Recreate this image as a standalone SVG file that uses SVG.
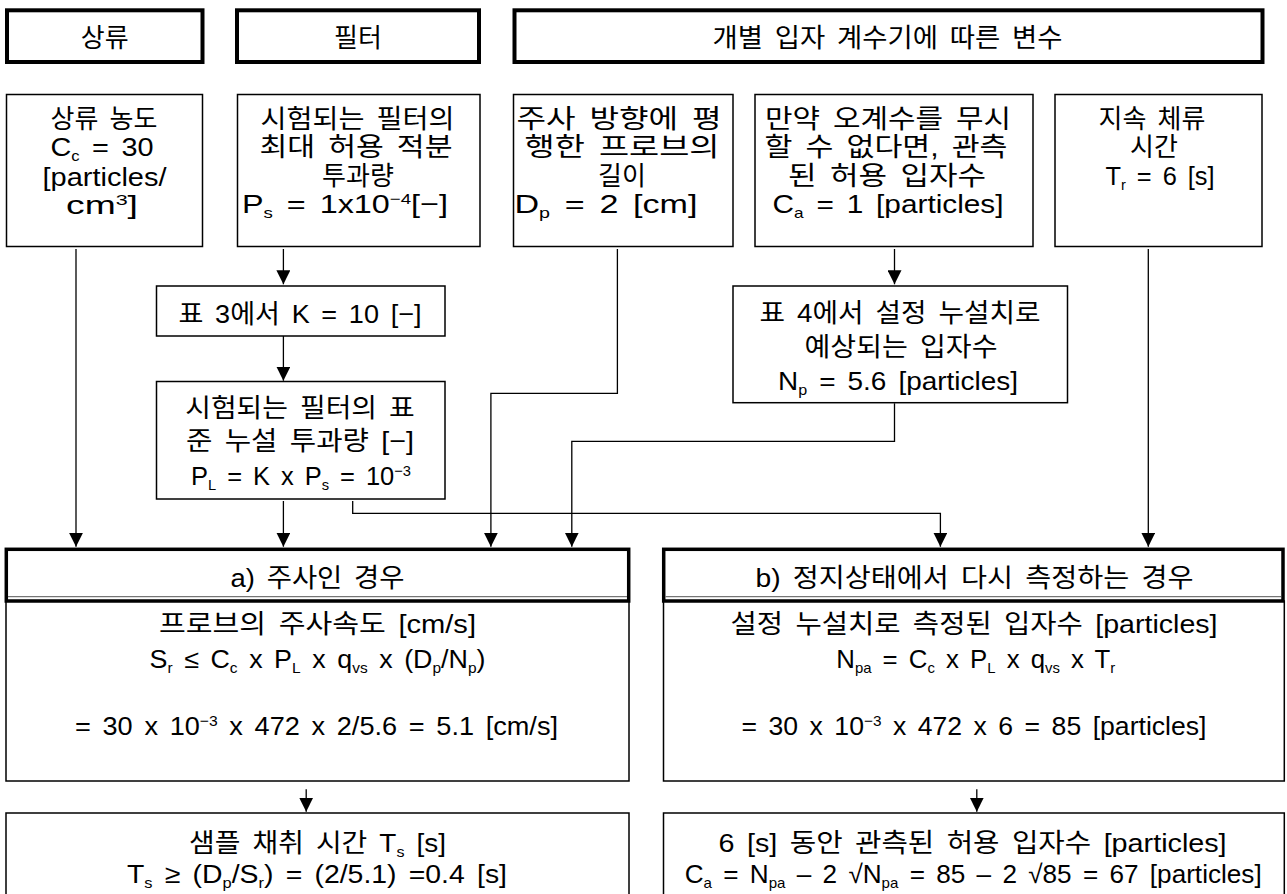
<svg xmlns="http://www.w3.org/2000/svg" width="1287" height="894" viewBox="0 0 1287 894">
<defs>
<style>
.hdr{fill:#fff;stroke:#000;stroke-width:4}
.hd2{fill:#fff;stroke:#000;stroke-width:3.5}
.box{fill:#fff;stroke:#000;stroke-width:1.5}
.inner{stroke:#555;stroke-width:1;fill:none}
.conn{fill:none;stroke:#000;stroke-width:1.3}
.t{font-family:"Liberation Sans","Noto Sans CJK KR",sans-serif;font-size:26px;fill:#000;text-anchor:middle;word-spacing:4px}
.s{font-size:15px}
</style>
<marker id="arr" markerUnits="userSpaceOnUse" markerWidth="14" markerHeight="14" viewBox="0 0 14 14" refX="14" refY="7" orient="auto">
<path d="M0,0 L14,7 L0,14 Z" fill="#000"/>
</marker>
</defs>
<rect width="1287" height="894" fill="#fff"/>

<g id="hdr-upstream">
<rect class="hdr" x="7" y="10.3" width="195.5" height="51.7"/>
<text class="t" x="104.7" y="46.5">상류</text>
</g>
<g id="hdr-filter">
<rect class="hdr" x="237" y="10.3" width="242" height="51.7"/>
<text class="t" x="358" y="46.5">필터</text>
</g>
<g id="hdr-counter">
<rect class="hdr" x="514.5" y="10.3" width="748" height="51.7"/>
<text class="t" x="887.5" y="46.5" textLength="350" lengthAdjust="spacingAndGlyphs">개별 입자 계수기에 따른 변수</text>
</g>

<g id="n-conc">
<rect class="box" x="6.5" y="94.5" width="196" height="152"/>
<text class="t" x="104" y="127.5">상류 농도</text>
<text class="t" x="102" y="156" textLength="103" lengthAdjust="spacingAndGlyphs">C<tspan class="s" dy="5">c</tspan><tspan dy="-5"> = 30</tspan></text>
<text class="t" x="104.5" y="185.5" textLength="124" lengthAdjust="spacingAndGlyphs">[particles/</text>
<text class="t" x="102" y="213.5" textLength="72" lengthAdjust="spacingAndGlyphs">cm<tspan class="s" dy="-9">3</tspan><tspan dy="9">]</tspan></text>
</g>

<g id="n-ps">
<rect class="box" x="237.5" y="94.5" width="242.5" height="152"/>
<text class="t" x="357.5" y="127.5" textLength="194" lengthAdjust="spacingAndGlyphs">시험되는 필터의</text>
<text class="t" x="356" y="156" textLength="193" lengthAdjust="spacingAndGlyphs">최대 허용 적분</text>
<text class="t" x="358" y="184.5">투과량</text>
<text class="t" x="345" y="213" textLength="206" lengthAdjust="spacingAndGlyphs">P<tspan class="s" dy="5">s</tspan><tspan dy="-5"> = 1x10</tspan><tspan class="s" dy="-9">−4</tspan><tspan dy="9">[−]</tspan></text>
</g>

<g id="n-dp">
<rect class="box" x="513.5" y="94.5" width="219.5" height="152"/>
<text class="t" x="619" y="127.5" textLength="205" lengthAdjust="spacingAndGlyphs">주사 방향에 평</text>
<text class="t" x="622" y="156" textLength="195" lengthAdjust="spacingAndGlyphs">행한 프로브의</text>
<text class="t" x="622" y="184.5">길이</text>
<text class="t" x="606" y="213" textLength="183" lengthAdjust="spacingAndGlyphs">D<tspan class="s" dy="5">p</tspan><tspan dy="-5"> = 2 [cm]</tspan></text>
</g>

<g id="n-ca">
<rect class="box" x="755" y="94.5" width="278" height="152"/>
<text class="t" x="888" y="127.5" textLength="246" lengthAdjust="spacingAndGlyphs">만약 오계수를 무시</text>
<text class="t" x="886" y="156" textLength="243" lengthAdjust="spacingAndGlyphs">할 수 없다면, 관측</text>
<text class="t" x="887" y="184.5" textLength="198" lengthAdjust="spacingAndGlyphs">된 허용 입자수</text>
<text class="t" x="888" y="213" textLength="231" lengthAdjust="spacingAndGlyphs">C<tspan class="s" dy="5">a</tspan><tspan dy="-5"> = 1 [particles]</tspan></text>
</g>

<g id="n-tr">
<rect class="box" x="1055" y="94.5" width="207" height="152"/>
<text class="t" x="1152" y="127.5">지속 체류</text>
<text class="t" x="1154" y="156">시간</text>
<text class="t" x="1160" y="184.5" textLength="109" lengthAdjust="spacingAndGlyphs">T<tspan class="s" dy="5">r</tspan><tspan dy="-5"> = 6 [s]</tspan></text>
</g>

<g id="n-k">
<rect class="box" x="156.5" y="286" width="288.5" height="50"/>
<text class="t" x="300" y="322.5" textLength="243" lengthAdjust="spacingAndGlyphs">표 3에서 K = 10 [−]</text>
</g>

<g id="n-pl">
<rect class="box" x="156.5" y="381.5" width="288.5" height="117.5"/>
<text class="t" x="300" y="417" textLength="229.5" lengthAdjust="spacingAndGlyphs">시험되는 필터의 표</text>
<text class="t" x="300" y="450" textLength="228" lengthAdjust="spacingAndGlyphs">준 누설 투과량 [−]</text>
<text class="t" x="301" y="485" textLength="220" lengthAdjust="spacingAndGlyphs">P<tspan class="s" dy="5">L</tspan><tspan dy="-5"> = K x P</tspan><tspan class="s" dy="5">s</tspan><tspan dy="-5"> = 10</tspan><tspan class="s" dy="-9">−3</tspan></text>
</g>

<g id="n-np">
<rect class="box" x="733" y="286" width="334.5" height="116.7"/>
<text class="t" x="900" y="322" textLength="281" lengthAdjust="spacingAndGlyphs">표 4에서 설정 누설치로</text>
<text class="t" x="901" y="355.5" textLength="193" lengthAdjust="spacingAndGlyphs">예상되는 입자수</text>
<text class="t" x="898" y="390" textLength="240" lengthAdjust="spacingAndGlyphs">N<tspan class="s" dy="5">p</tspan><tspan dy="-5"> = 5.6 [particles]</tspan></text>
</g>

<g id="n-scan">
<rect class="box" x="6" y="601" width="623" height="180"/>
<rect class="hd2" x="6.3" y="549.3" width="622.4" height="51.7"/>
<line class="inner" x1="8" y1="596.7" x2="627" y2="596.7"/>
<text class="t" x="317.5" y="587" textLength="174" lengthAdjust="spacingAndGlyphs">a) 주사인 경우</text>
<text class="t" x="317.5" y="633" textLength="317" lengthAdjust="spacingAndGlyphs">프로브의 주사속도 [cm/s]</text>
<text class="t" x="317.5" y="668" textLength="336" lengthAdjust="spacingAndGlyphs">S<tspan class="s" dy="5">r</tspan><tspan dy="-5"> ≤ C</tspan><tspan class="s" dy="5">c</tspan><tspan dy="-5"> x P</tspan><tspan class="s" dy="5">L</tspan><tspan dy="-5"> x q</tspan><tspan class="s" dy="5">vs</tspan><tspan dy="-5"> x (D</tspan><tspan class="s" dy="5">p</tspan><tspan dy="-5">/N</tspan><tspan class="s" dy="5">p</tspan><tspan dy="-5">)</tspan></text>
<text class="t" x="316.5" y="735" textLength="483" lengthAdjust="spacingAndGlyphs">= 30 x 10<tspan class="s" dy="-9">−3</tspan><tspan dy="9"> x 472 x 2/5.6 = 5.1 [cm/s]</tspan></text>
</g>

<g id="n-ts">
<rect class="box" x="6" y="813" width="623" height="100"/>
<text class="t" x="317.5" y="851.5" textLength="257" lengthAdjust="spacingAndGlyphs">샘플 채취 시간 T<tspan class="s" dy="5">s</tspan><tspan dy="-5"> [s]</tspan></text>
<text class="t" x="317" y="883" textLength="380" lengthAdjust="spacingAndGlyphs">T<tspan class="s" dy="5">s</tspan><tspan dy="-5"> ≥ (D</tspan><tspan class="s" dy="5">p</tspan><tspan dy="-5">/S</tspan><tspan class="s" dy="5">r</tspan><tspan dy="-5">) = (2/5.1) =0.4 [s]</tspan></text>
</g>

<g id="n-static">
<rect class="box" x="663.5" y="601" width="620.8" height="180"/>
<rect class="hd2" x="663.7" y="549.3" width="619.3" height="51.7"/>
<line class="inner" x1="665.5" y1="596.7" x2="1281" y2="596.7"/>
<text class="t" x="974.5" y="587" textLength="438" lengthAdjust="spacingAndGlyphs">b) 정지상태에서 다시 측정하는 경우</text>
<text class="t" x="974" y="633" textLength="487" lengthAdjust="spacingAndGlyphs">설정 누설치로 측정된 입자수 [particles]</text>
<text class="t" x="975.8" y="668" textLength="279" lengthAdjust="spacingAndGlyphs">N<tspan class="s" dy="5">pa</tspan><tspan dy="-5"> = C</tspan><tspan class="s" dy="5">c</tspan><tspan dy="-5"> x P</tspan><tspan class="s" dy="5">L</tspan><tspan dy="-5"> x q</tspan><tspan class="s" dy="5">vs</tspan><tspan dy="-5"> x T</tspan><tspan class="s" dy="5">r</tspan></text>
<text class="t" x="974" y="735" textLength="465" lengthAdjust="spacingAndGlyphs">= 30 x 10<tspan class="s" dy="-9">−3</tspan><tspan dy="9"> x 472 x 6 = 85 [particles]</tspan></text>
</g>

<g id="n-ca-result">
<rect class="box" x="663.5" y="813" width="620.8" height="100"/>
<text class="t" x="972.6" y="851.5" textLength="508" lengthAdjust="spacingAndGlyphs">6 [s] 동안 관측된 허용 입자수 [particles]</text>
<text class="t" x="973.2" y="883" textLength="577" lengthAdjust="spacingAndGlyphs">C<tspan class="s" dy="5">a</tspan><tspan dy="-5"> = N</tspan><tspan class="s" dy="5">pa</tspan><tspan dy="-5"> – 2 √N</tspan><tspan class="s" dy="5">pa</tspan><tspan dy="-5"> = 85 – 2 √85 = 67 [particles]</tspan></text>
</g>

<g id="connectors">
<path class="conn" d="M76,249 V546.7" marker-end="url(#arr)"/>
<path class="conn" d="M283.4,249 V284.3" marker-end="url(#arr)"/>
<path class="conn" d="M283.4,336 V380.7" marker-end="url(#arr)"/>
<path class="conn" d="M283.4,501 V546.7" marker-end="url(#arr)"/>
<path class="conn" d="M352.7,501 V513.3 H940.4 V546.7" marker-end="url(#arr)"/>
<path class="conn" d="M617.4,249 V393.3 H490.9 V546.7" marker-end="url(#arr)"/>
<path class="conn" d="M894.5,249 V284.3" marker-end="url(#arr)"/>
<path class="conn" d="M894.5,403.3 V441.3 H571.8 V546.7" marker-end="url(#arr)"/>
<path class="conn" d="M1148.3,249 V546.7" marker-end="url(#arr)"/>
<path class="conn" d="M306.2,789.3 V811.7" marker-end="url(#arr)"/>
<path class="conn" d="M976.8,789.3 V811.7" marker-end="url(#arr)"/>
</g>
</svg>
